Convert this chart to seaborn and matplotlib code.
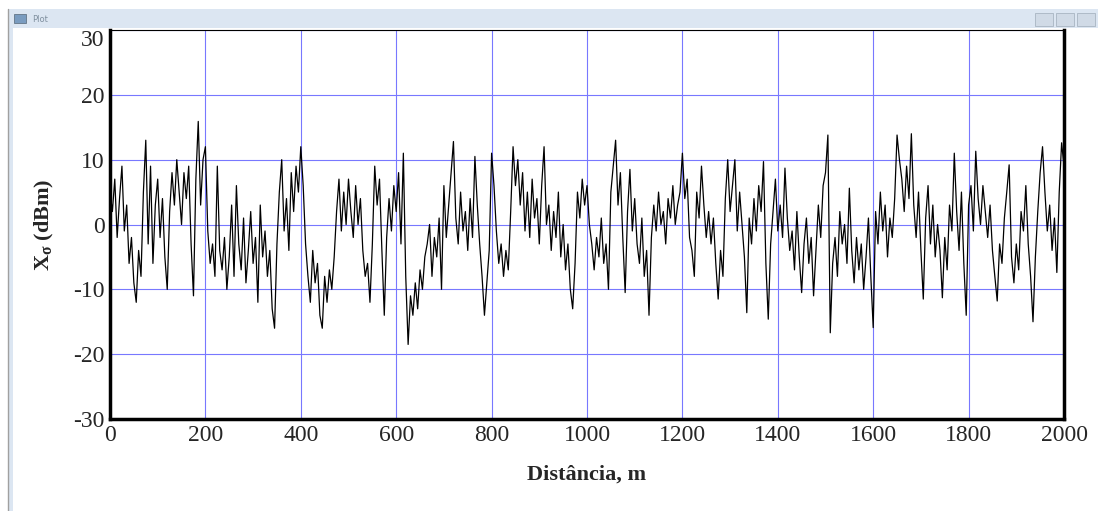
import numpy as np
import pandas as pd
import matplotlib
matplotlib.use("Agg")
import matplotlib.pyplot as plt
import seaborn as sns
from matplotlib.patches import Rectangle

# distance step of 5 m (dBm)
step = 5
xsigma = [
    5, 2, 7, -2, 4, 9, -1, 3, -6, -2, -9, -12, -4, -8, 5, 13, -3, 9, -6, 3,
    7, -2, 4, -5, -10, 2, 8, 3, 10, 5, 0, 8, 4, 9, -3, -11, 7, 15.9, 3, 10,
    12, -1, -6, -3, -8, 9, -4, -7, -2, -10, -5, 3, -8, 6, -3, -7, 1, -9, -4, 2,
    -6, -2, -12, 3, -5, -1, -8, -4, -13, -16, -3, 5, 10, -1, 4, -4, 8, 2, 9, 5,
    12, 6, -3, -8, -12, -4, -9, -6, -14, -16, -8, -12, -7, -10, -5, 2, 7, -1, 5, 0,
    7, 2, -2, 6, 0, 4, -4, -8, -6, -12, -3, 9, 3, 7, -4, -14, -2, 4, -1, 6,
    2, 8, -3, 11, -8, -18.5, -11, -14, -9, -13, -7, -10, -5, -3, 0, -8, -2, -5, 1, -10,
    6, -2, 3, 8, 12.8, 1, -3, 5, -1, 2, -4, 4, -2, 10.5, 3, -3, -8, -14, -9, -4,
    11, 6, -1, -6, -3, -8, -4, -7, 2, 12, 6, 10, 3, 8, -1, 5, -2, 7, 1, 4,
    -3, 6, 12, 0, 3, -4, 2, -2, 5, -5, 0, -7, -3, -10, -13, -6, 5, 1, 7, 3,
    6, 0, -3, -7, -2, -5, 1, -6, -3, -10, 5, 9, 13, 3, 8, -2, -10.5, 2, 8.5, -1,
    4, -3, -6, 1, -8, -4, -14, -2, 3, -1, 5, 0, 2, -3, 4, 1, 6, 0, 3, 5,
    11, 4, 7, -2, -4, -8, 5, 1, 9, 3, -2, 2, -3, 1, -6, -11.5, -4, -8, 4, 10,
    2, 6, 10, -1, 5, 0, -5, -13.6, 1, -3, 4, -1, 6, 2, 9.7, -6, -14.6, -3, 2, 7,
    -1, 3, -2, 8.7, 1, -4, -1, -7, 2, -5, -10.5, -3, 1, -6, -2, -11, -4, 3, -2, 6,
    8, 13.8, -16.7, -6, -2, -8, 2, -3, 0, -6, 5.6, -4, -9, -2, -7, -3, -10, -5, 1, -8,
    -15.9, 2, -3, 5, -1, 3, -5, 1, -2, 4, 13.8, 10, 7, 2, 9, 4, 14, 3, -2, 5,
    -4, -11.5, 1, 6, -3, 3, -5, 0, -4, -11.3, -2, -7, 3, -1, 11, 2, -4, 5, -6, -14,
    3, 6, -1, 11.3, 4, 0, 6, 2, -2, 3, -4, -8, -11.8, -3, -6, 1, 5, 9.2, -5, -9,
    -3, -7, 2, -1, 6, -3, -8, -15, -5, 2, 8, 12, 5, -1, 3, -4, 1, -7.4, 5, 12.6,
    9,
]
distance = [i * step for i in range(len(xsigma))]

x_ticks = [0, 200, 400, 600, 800, 1000, 1200, 1400, 1600, 1800, 2000]
y_ticks = [-30, -20, -10, 0, 10, 20, 30]

df = pd.DataFrame({"dist": distance, "xs": xsigma})

sns.set_style("white")
plt.rcParams["font.family"] = ["Liberation Serif", "DejaVu Serif"]
plt.rcParams["axes.unicode_minus"] = False
plt.rcParams["mathtext.fontset"] = "custom"
plt.rcParams["mathtext.rm"] = "Liberation Serif:bold"
plt.rcParams["mathtext.it"] = "Liberation Serif:bold"
plt.rcParams["mathtext.bf"] = "Liberation Serif:bold"

W, H = 1101, 511
fig = plt.figure(figsize=(W / 100, H / 100), dpi=100)
fig.patch.set_facecolor("white")

# window frame decoration
fig.patches.append(Rectangle((8 / W, 0), 5 / W, 1 - 28 / H, transform=fig.transFigure,
                             facecolor="#dce6f2", edgecolor="none"))
fig.patches.append(Rectangle((8 / W, 1 - 28 / H), 1090 / W, 19 / H, transform=fig.transFigure,
                             facecolor="#dce6f2", edgecolor="none"))
fig.lines.append(plt.Line2D([8 / W, 8 / W], [0, 1 - 9 / H], transform=fig.transFigure,
                            color="#a0a0a0", lw=1))
fig.text(32 / W, 1 - 19 / H, "Plot", fontsize=6, color="#8090a0", va="center",
         family="DejaVu Sans")
fig.patches.append(Rectangle((14 / W, 1 - 23 / H), 12 / W, 9 / H, transform=fig.transFigure,
                             facecolor="#7a9cc0", edgecolor="#556677", lw=0.5))
for bx in [1035, 1056, 1077]:
    fig.patches.append(Rectangle((bx / W, 1 - 26 / H), 18 / W, 13 / H, transform=fig.transFigure,
                                 facecolor="#d0dae6", edgecolor="#a8b4c2", lw=0.6))

ax = fig.add_axes([110 / W, 1 - 419 / H, (1064 - 110) / W, (419 - 30) / H])
sns.lineplot(data=df, x="dist", y="xs", color="black", linewidth=0.9, ax=ax)

ax.set_xlim(0, 2000)
ax.set_ylim(-30, 30)
ax.set_xticks(x_ticks)
ax.set_yticks(y_ticks)
ax.grid(True, color="#7878ff", linewidth=0.8, alpha=1)
ax.tick_params(length=0, labelsize=17, pad=4)
for s in ["left", "bottom", "right"]:
    ax.spines[s].set_linewidth(2.5)
    ax.spines[s].set_color("black")
ax.spines["top"].set_linewidth(0.8)
ax.spines["top"].set_color("black")

# top y label sits just below the frame in the reference
ylabels = ax.get_yticklabels()
ylabels[-1].set_verticalalignment("top")

ax.set_xlabel("Distância, m", fontsize=16, fontweight="bold", labelpad=14)
ax.set_ylabel(r"X$_{\sigma}$ (dBm)", fontsize=16, fontweight="bold", labelpad=12)

fig.savefig("out.png", dpi=100)
